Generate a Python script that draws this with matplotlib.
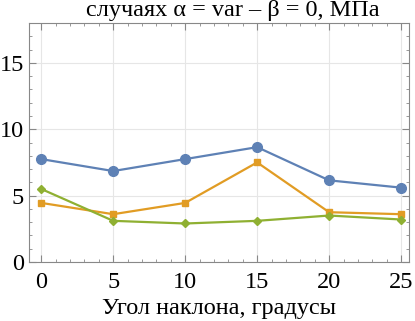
import matplotlib as mpl
mpl.use('Agg')
import matplotlib.pyplot as plt
from matplotlib.ticker import MultipleLocator

# угол наклона и напряжения, МПа
angles = [0, 5, 10, 15, 20, 25]
series_blue = [7.75, 6.85, 7.75, 8.65, 6.15, 5.6]
series_orange = [4.45, 3.6, 4.45, 7.5, 3.75, 3.6]
series_green = [5.5, 3.1, 2.9, 3.1, 3.5, 3.2]

title = 'случаях α = var – β = 0, МПа'
xlabel = 'Угол наклона, градусы'

plt.rcParams['font.family'] = ['Liberation Serif', 'DejaVu Serif']

fig = plt.figure(figsize=(4.15, 3.21), dpi=100)
ax = fig.add_axes([29/415, 59/321, 380/415, 239/321])

ax.plot(angles, series_blue, color='#5E81B5', marker='o', ms=7, lw=1.6)
ax.plot(angles, series_orange, color='#E19C24', marker='s', ms=5, lw=1.6)
ax.plot(angles, series_green, color='#8FB032', marker='D', ms=4.5, lw=1.6)

ax.set_xlim(-0.85, 25.55)
ax.set_ylim(0, 18)
ax.xaxis.set_major_locator(MultipleLocator(5))
ax.xaxis.set_minor_locator(MultipleLocator(1))
ax.yaxis.set_major_locator(MultipleLocator(5))
ax.yaxis.set_minor_locator(MultipleLocator(1))
ax.grid(True, which='major', color='#e6e6e6', lw=0.8)
ax.set_axisbelow(True)
ax.tick_params(which='both', direction='in', top=True, right=True, colors='#888888',
               labelcolor='black', labelsize=17.5)
ax.tick_params(which='major', length=5)
ax.tick_params(which='minor', length=2.5)
ax.tick_params(axis='x', pad=7)
for s in ax.spines.values():
    s.set_color('#888888')

ax.set_xlabel(xlabel, fontsize=17.5, labelpad=4)
fig.text(0.56, 1.0, title, ha='center', va='top', fontsize=17.5)

plt.savefig('out.png')
